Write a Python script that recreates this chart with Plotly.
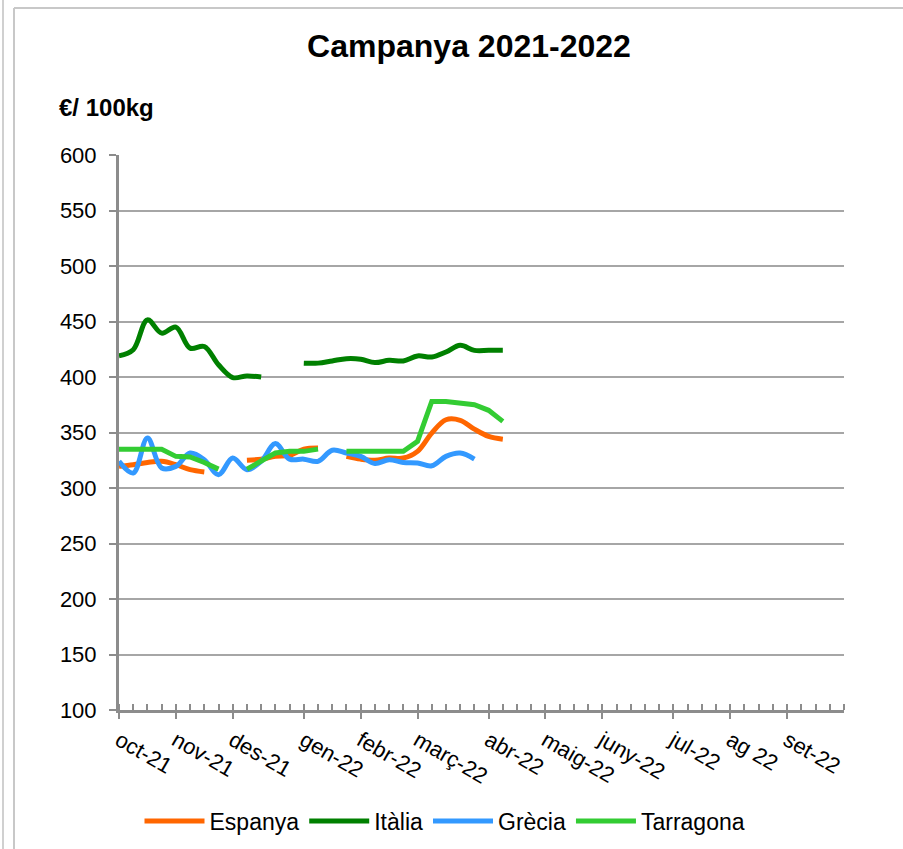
import plotly.graph_objects as go

# ---- data ----
setmanes = list(range(52))  # weekly categories, oct-21 .. set-22
mesos = ["oct-21", "nov-21", "des-21", "gen-22", "febr-22", "març-22",
         "abr-22", "maig-22", "juny-22", "jul-22", "ag 22", "set-22"]
mesos_setmana = [0, 4, 8, 13, 17, 21, 26, 30, 34, 39, 43, 47]

N = None
espanya = [319.5, 321, 323, 324, 321, 316.5, 314.5, N, N,
           325, 326, 328.5, 329.5, 335, 336, N,
           328.5, 326, 325, 327, 327, 333, 349.5, 361.5, 361, 353, 346.5, 344] + [N] * 24
italia = [419, 424.5, 451.5, 439.5, 445, 426, 427.5, 411, 399.5, 401, 400, N, N,
          412.5, 412.5, 414.5, 416.5, 416, 413, 415, 414.5, 419, 418, 422.5, 428.5,
          424, 424, 424] + [N] * 24
grecia = [324, 313.5, 345, 318, 319.5, 331.5, 325.5, 312, 327, 316.5, 324, 340,
          326, 326, 324, 334, 331.5, 328.5, 322, 325.5, 323, 322.5, 320, 328.5,
          331.5, 326] + [N] * 26
tarragona = [335, 335, 335, 335, 328.5, 328, 323, 317, N,
             317, 324, 331.5, 333, 333, 335, N,
             333, 333, 333, 333, 333, 342, 378, 378, 377, 375, 370, 360] + [N] * 24

series = [
    ("Espanya", espanya, "#FF6600", "spline"),
    ("Itàlia", italia, "#008000", "spline"),
    ("Grècia", grecia, "#3399FF", "spline"),
    ("Tarragona", tarragona, "#33CC33", "linear"),
]

FONT = "Liberation Sans, Arial, sans-serif"

fig = go.Figure()
for name, vals, col, shape in series:
    fig.add_trace(go.Scatter(
        x=setmanes, y=vals, name=name, mode="lines",
        line=dict(color=col, width=5, shape=shape),
        connectgaps=False,
    ))

ticktext = ["" for _ in setmanes]
for pos, lab in zip(mesos_setmana, mesos):
    ticktext[pos] = lab

W, H = 903, 849
L, R, T, B = 119, 59, 155, 139
pw, ph = W - L - R, H - T - B

def px(xp):
    return (xp - L) / pw

def py(yp):
    return (H - B - yp) / ph

fig.update_layout(
    width=W, height=H,
    margin=dict(l=L, r=R, t=T, b=B, autoexpand=False),
    paper_bgcolor="white", plot_bgcolor="white",
    font=dict(family=FONT, color="black", size=22),
    title=dict(text="<b>Campanya 2021-2022</b>", x=469 / W, xanchor="center",
               y=1 - 46 / H, yanchor="middle", yref="container",
               font=dict(size=32, family=FONT, color="black")),
    showlegend=True,
    legend=dict(orientation="h", x=px(445), xanchor="center", y=py(821),
                yanchor="middle", font=dict(size=23, family=FONT),
                itemwidth=60, bgcolor="rgba(0,0,0,0)"),
    xaxis=dict(
        range=[0, 51], tickmode="array", tickvals=setmanes, ticktext=ticktext,
        tickangle=30, ticks="outside", ticklen=6, tickwidth=2, tickcolor="#8C8C8C",
        minor=dict(ticks="inside", tickvals=setmanes, ticklen=6, tickwidth=2,
                   tickcolor="#8C8C8C"),
        showline=True, linecolor="#8C8C8C", linewidth=3, showgrid=False,
        zeroline=False, tickfont=dict(size=22, family=FONT),
    ),
    yaxis=dict(
        range=[100, 600], dtick=50, tick0=100, ticks="outside", ticklen=7,
        tickwidth=2, tickcolor="#8C8C8C", showline=True, linecolor="#8C8C8C",
        linewidth=3, showgrid=True, gridcolor="#A6A6A6", gridwidth=2,
        zeroline=False, tickfont=dict(size=22, family=FONT),
        ticklabelstandoff=8,
    ),
    annotations=[dict(text="<b>€/ 100kg</b>", xref="paper", yref="paper",
                      x=px(57), xanchor="left", y=py(108), yanchor="middle",
                      showarrow=False, font=dict(size=24, family=FONT))],
    shapes=[
        dict(type="line", xref="paper", yref="paper", x0=px(14), x1=px(14),
             y0=py(8), y1=py(H + 5), line=dict(color="#C8C8C8", width=2)),
        dict(type="line", xref="paper", yref="paper", x0=px(14), x1=px(W + 5),
             y0=py(8), y1=py(8), line=dict(color="#C8C8C8", width=2)),
        dict(type="line", xref="paper", yref="paper", x0=px(3), x1=px(3),
             y0=py(-5), y1=py(H + 5), line=dict(color="#D0D0D0", width=2)),
    ],
)

fig.write_html("out.html",
               config={"displayModeBar": False},
               post_script="document.body.style.margin='0';"
                           "document.body.style.overflow='hidden';")
